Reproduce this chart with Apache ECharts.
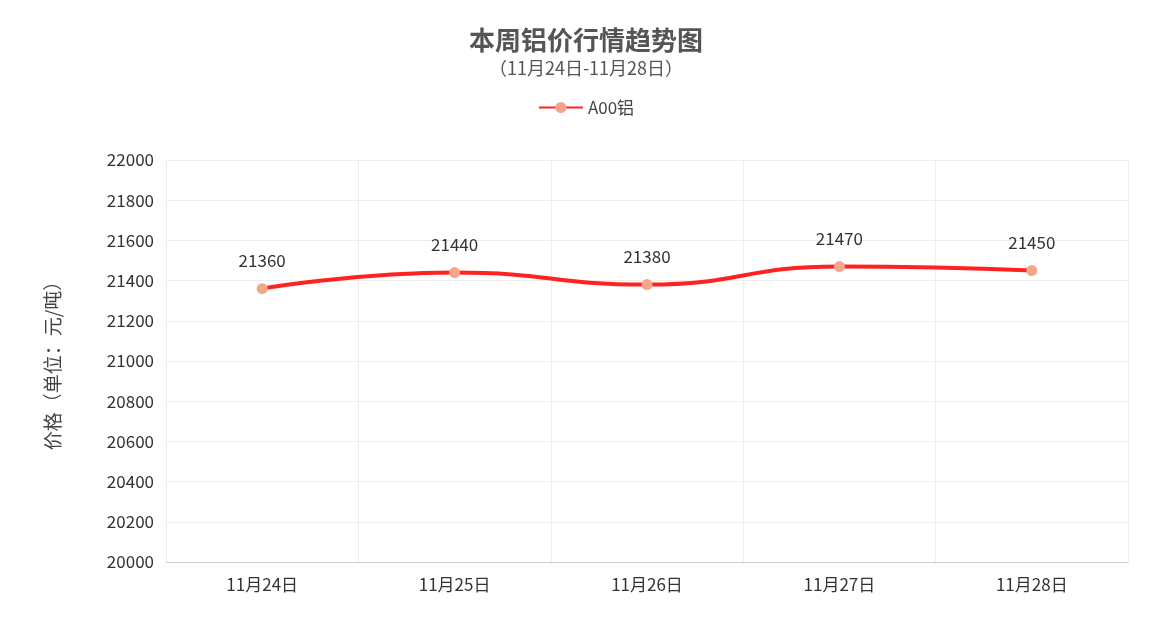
<!DOCTYPE html>
<html><head><meta charset="utf-8">
<script src="https://cdn.jsdelivr.net/npm/echarts@6/dist/echarts.min.js"></script>
<style>html,body{margin:0;padding:0;background:#fff}#c{width:1172px;height:644px}</style>
</head><body><div id="c"></div>
<script>
const categories = ['11月24日','11月25日','11月26日','11月27日','11月28日'];
const values = [21360,21440,21380,21470,21450];
const chart = echarts.init(document.getElementById('c'));
chart.setOption({
  textStyle:{fontFamily:'"Noto Sans CJK SC","Noto Sans",sans-serif'},
  title:{text:'本周铝价行情趋势图',subtext:'（11月24日-11月28日）',left:'center',top:22,itemGap:6,
    textStyle:{fontSize:26,fontWeight:'bold',color:'#555'},subtextStyle:{fontSize:18,color:'#555'}},
  legend:{top:94,left:'center',itemWidth:44,itemHeight:14,itemGap:6,textStyle:{fontSize:17,color:'#444'},
    data:['A00铝']},
  grid:{left:166,right:44,top:160,bottom:82},
  xAxis:{type:'category',data:categories,boundaryGap:true,
    axisLine:{lineStyle:{color:'#ccc'}},axisTick:{show:false},
    axisLabel:{fontSize:17,color:'#333',margin:14},
    splitLine:{show:true,lineStyle:{color:'#eee'}}},
  yAxis:{type:'value',min:20000,max:22000,interval:200,name:'价格（单位：元/吨）',
    nameLocation:'middle',nameGap:104,nameTextStyle:{fontSize:19,color:'#444'},
    axisLine:{show:false},axisTick:{show:false},
    axisLabel:{fontSize:17,color:'#333',margin:12,formatter:v=>String(v)},
    splitLine:{lineStyle:{color:'#eee'}}},
  series:[{name:'A00铝',type:'line',data:values,smooth:true,symbol:'circle',symbolSize:11,
    lineStyle:{color:'#ff2222',width:4},itemStyle:{color:'#f4a58a'},
    label:{show:true,position:'top',distance:14,fontSize:17,color:'#333'}}]
});
</script></body></html>
